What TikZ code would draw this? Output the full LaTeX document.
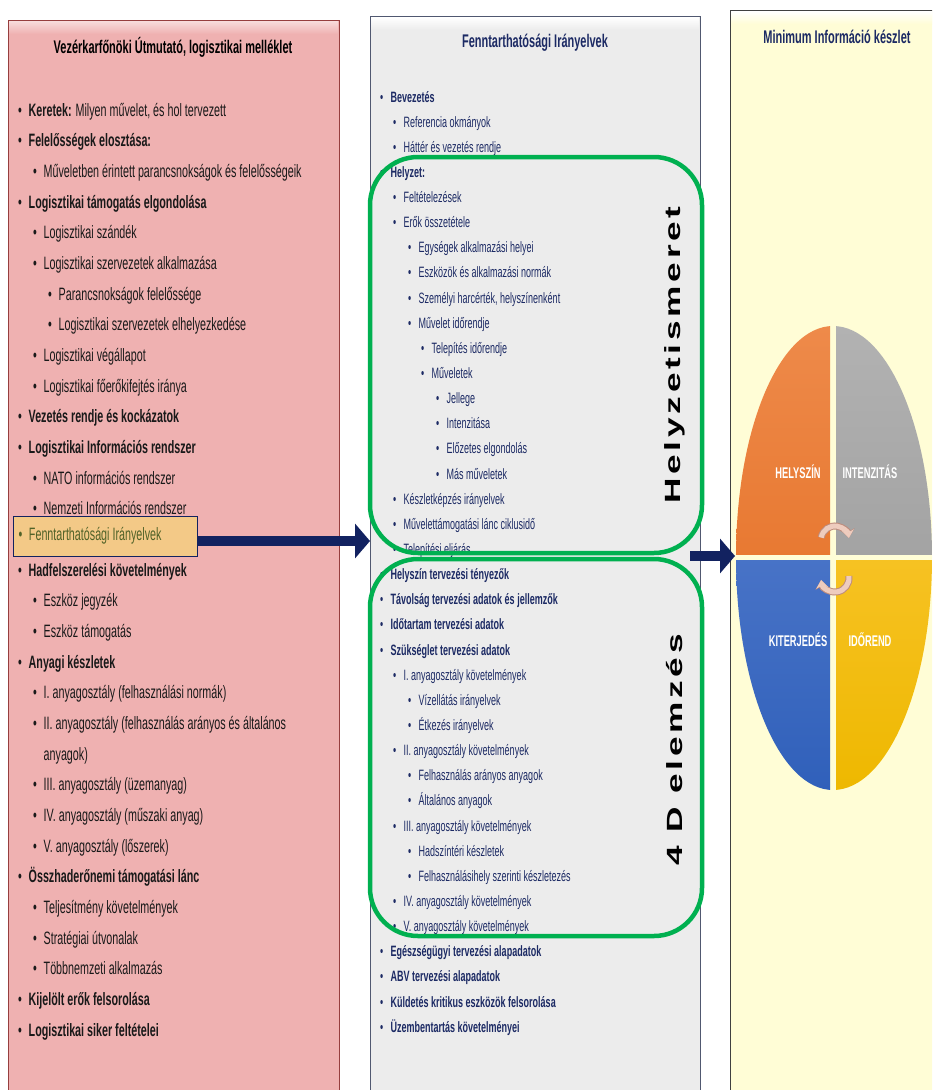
\documentclass[tikz,border=0pt]{standalone}
\usepackage{fontspec}
\setmainfont{Liberation Sans}[FakeStretch=0.6]
\newfontfamily\sidefont{Liberation Sans}[FakeStretch=1.6,LetterSpace=17]
\usetikzlibrary{arrows.meta,positioning}

\definecolor{pinkfill}{RGB}{239,177,177}
\definecolor{pinkline}{RGB}{150,62,62}
\definecolor{greyfill}{RGB}{236,236,236}
\definecolor{greyline}{RGB}{80,88,112}
\definecolor{creamfill}{RGB}{255,253,214}
\definecolor{navy}{RGB}{18,34,96}
\definecolor{textnavy}{RGB}{28,42,100}
\definecolor{frame}{RGB}{0,176,80}
\definecolor{hlfill}{RGB}{243,201,135}
\definecolor{olive}{RGB}{80,98,40}
\definecolor{peach}{RGB}{238,204,190}
\definecolor{peachdark}{RGB}{190,140,125}
\definecolor{orTop}{RGB}{238,138,74}
\definecolor{orBot}{RGB}{226,104,26}
\definecolor{grTop}{RGB}{178,178,178}
\definecolor{grBot}{RGB}{148,148,148}
\definecolor{blTop}{RGB}{96,134,212}
\definecolor{blBot}{RGB}{48,96,186}
\definecolor{yeTop}{RGB}{255,204,70}
\definecolor{yeBot}{RGB}{238,184,0}

\newcommand{\bul}{\makebox[10.5pt][l]{\textbullet}}
\newcommand{\nob}{\hspace*{10.5pt}}

\begin{document}
\begin{tikzpicture}[x=1pt,y=-1pt,
  panel/.style={draw, line width=1.2pt, anchor=north west, inner sep=0pt},
  ptitle/.style={font=\fontsize{18.3}{20}\selectfont\bfseries},
  litem/.style={anchor=base west, inner sep=0pt, font=\fontsize{17.9}{20}\selectfont, text=black!90},
  mitem/.style={anchor=base west, inner sep=0pt, font=\fontsize{15}{17}\selectfont, text=textnavy},
  sidetext/.style={rotate=90, font=\sidefont\fontsize{22}{24}\selectfont\bfseries},
  greenframe/.style={draw=frame, line width=4.5pt, rounded corners=48pt},
  bigarrow/.style={draw=navy, line width=10pt, -{Triangle[length=15pt,width=34pt]}},
  quadlabel/.style={font=\fontsize{15.5}{17}\selectfont\bfseries, text=white},
  turn/.style={draw=peach, line width=5pt, -{Stealth[length=8pt,width=12pt]}},
  turnshade/.style={draw=peachdark, line width=7pt, -{Stealth[length=9pt,width=14pt]}}]

\clip (0,0) rectangle (932,1090);
\fill[white] (0,0) rectangle (932,1090);

% the three panels
\node[panel, draw=pinkline, fill=pinkfill, minimum width=331pt, minimum height=1080pt] (vk) at (8,20) {};
\node[panel, draw=greyline, fill=greyfill, minimum width=330pt, minimum height=1085pt] (ft) at (370,16) {};
\node[panel, draw=black!75, fill=creamfill, minimum width=215pt, minimum height=1090pt] (mi) at (730,10) {};
\shade[top color=white!55!pinkfill, bottom color=pinkfill] (9,21) rectangle (338,34);
\shade[top color=white, bottom color=greyfill] (371,17) rectangle (699,30);
\shade[top color=white, bottom color=creamfill] (731,11) rectangle (932,24);

\node[ptitle] (vkcim) at (173,47) {Vezérkarfőnöki Útmutató, logisztikai melléklet};
\node[ptitle, text=textnavy] (ftcim) at (535,43) {Fenntarthatósági Irányelvek};
\node[ptitle, text=textnavy] (micim) at (837,37) {Minimum Információ készlet};

% left list
\foreach \n/\x/\t in {
  1/18/{\bul\textbf{Keretek:} Milyen művelet, és hol tervezett},
  2/18/{\bul\textbf{Felelősségek elosztása:}},
  3/33/{\bul Műveletben érintett parancsnokságok és felelősségeik},
  4/18/{\bul\textbf{Logisztikai támogatás elgondolása}},
  5/33/{\bul Logisztikai szándék},
  6/33/{\bul Logisztikai szervezetek alkalmazása},
  7/48/{\bul Parancsnokságok felelőssége},
  8/48/{\bul Logisztikai szervezetek elhelyezkedése},
  9/33/{\bul Logisztikai végállapot},
  10/33/{\bul Logisztikai főerőkifejtés iránya},
  11/18/{\bul\textbf{Vezetés rendje és kockázatok}},
  12/18/{\bul\textbf{Logisztikai Információs rendszer}},
  13/33/{\bul NATO információs rendszer},
  14/33/{\bul Nemzeti Információs rendszer},
  16/18/{\bul\textbf{Hadfelszerelési követelmények}},
  17/33/{\bul Eszköz jegyzék},
  18/33/{\bul Eszköz támogatás},
  19/18/{\bul\textbf{Anyagi készletek}},
  20/33/{\bul I. anyagosztály (felhasználási normák)},
  21/33/{\bul II. anyagosztály (felhasználás arányos és általános},
  22/33/{\nob anyagok)},
  23/33/{\bul III. anyagosztály (üzemanyag)},
  24/33/{\bul IV. anyagosztály (műszaki anyag)},
  25/33/{\bul V. anyagosztály (lőszerek)},
  26/18/{\bul\textbf{Összhaderőnemi támogatási lánc}},
  27/33/{\bul Teljesítmény követelmények},
  28/33/{\bul Stratégiai útvonalak},
  29/33/{\bul Többnemzeti alkalmazás},
  30/18/{\bul\textbf{Kijelölt erők felsorolása}},
  31/18/{\bul\textbf{Logisztikai siker feltételei}}}
  \node[litem] (L\n) at (\x,{116+30.67*(\n-1)}) {\t};

% highlighted item
\node[anchor=west, draw=navy, fill=hlfill, line width=1pt, inner xsep=5pt, inner ysep=0pt,
  minimum height=40pt, text=olive, font=\fontsize{17.9}{20}\selectfont] (fennt) at (13,536)
  {\makebox[174pt][l]{\bul Fenntarthatósági Irányelvek}};

% middle list
\foreach \n/\x/\t in {
  1/380/{\bul\textbf{Bevezetés}},
  2/393/{\bul Referencia okmányok},
  3/393/{\bul Háttér és vezetés rendje},
  4/380/{\bul\textbf{Helyzet:}},
  5/393/{\bul Feltételezések},
  6/393/{\bul Erők összetétele},
  7/408/{\bul Egységek alkalmazási helyei},
  8/408/{\bul Eszközök és alkalmazási normák},
  9/408/{\bul Személyi harcérték, helyszínenként},
  10/408/{\bul Művelet időrendje},
  11/421/{\bul Telepítés időrendje},
  12/421/{\bul Műveletek},
  13/436/{\bul Jellege},
  14/436/{\bul Intenzitása},
  15/436/{\bul Előzetes elgondolás},
  16/436/{\bul Más műveletek},
  17/393/{\bul Készletképzés irányelvek},
  18/393/{\bul Művelettámogatási lánc ciklusidő},
  19/393/{\bul Telepítési eljárás},
  20/380/{\bul\textbf{Helyszín tervezési tényezők}},
  21/380/{\bul\textbf{Távolság tervezési adatok és jellemzők}},
  22/380/{\bul\textbf{Időtartam tervezési adatok}},
  23/380/{\bul\textbf{Szükséglet tervezési adatok}},
  24/393/{\bul I. anyagosztály követelmények},
  25/408/{\bul Vízellátás irányelvek},
  26/408/{\bul Étkezés irányelvek},
  27/393/{\bul II. anyagosztály követelmények},
  28/408/{\bul Felhasználás arányos anyagok},
  29/408/{\bul Általános anyagok},
  30/393/{\bul III. anyagosztály követelmények},
  31/408/{\bul Hadszíntéri készletek},
  32/408/{\bul Felhasználásihely szerinti készletezés},
  33/393/{\bul IV. anyagosztály követelmények},
  34/393/{\bul V. anyagosztály követelmények},
  35/380/{\bul\textbf{Egészségügyi tervezési alapadatok}},
  36/380/{\bul\textbf{ABV tervezési alapadatok}},
  37/380/{\bul\textbf{Küldetés kritikus eszközök felsorolása}},
  38/380/{\bul\textbf{Üzembentartás követelményei}}}
  \node[mitem] (M\n) at (\x,{102+25.14*(\n-1)}) {\t};

% green frames
\draw[greenframe] (370,157) rectangle (702,553);
\draw[greenframe] (370,559) rectangle (702,936);
\node[sidetext] (helyz) at (675,355) {Helyzetismeret};
\node[sidetext] (elemz) at (675,750) {4 D elemzés};

% arrows between panels
\coordinate (a1) at ([yshift=-5pt]fennt.east);
\coordinate (a1e) at (a1 -| ft.west);
\draw[bigarrow] (a1) -- (a1e);
\coordinate (a2) at (690,556);
\coordinate (a2e) at (a2 -| mi.west);
\draw[bigarrow] (a2) -- ([xshift=5pt]a2e);

% pie of the four dimensions
\coordinate (pc) at (833,557);
\begin{scope}
  \clip (700,300) rectangle (830,554);
  \shade[top color=orTop, bottom color=orBot] (pc) ellipse (97 and 231);
\end{scope}
\begin{scope}
  \clip (836,300) rectangle (940,554);
  \shade[top color=grTop, bottom color=grBot] (pc) ellipse (99 and 231);
\end{scope}
\begin{scope}
  \clip (700,560) rectangle (830,800);
  \shade[top color=blTop, bottom color=blBot] (pc) ellipse (97 and 233);
\end{scope}
\begin{scope}
  \clip (836,560) rectangle (940,800);
  \shade[top color=yeTop, bottom color=yeBot] (pc) ellipse (99 and 233);
\end{scope}
\node[quadlabel] (hsz) at (798,472) {HELYSZÍN};
\node[quadlabel] (int) at (870,472) {INTENZITÁS};
\node[quadlabel] (kit) at (798,640) {KITERJEDÉS};
\node[quadlabel] (idr) at (870,640) {IDŐREND};
\draw[turnshade] (835,540) ++(190:14) arc[start angle=190, end angle=352, radius=14];
\draw[turn] (835,540) ++(190:14) arc[start angle=190, end angle=352, radius=14];
\draw[turnshade] (835,578) ++(-8:14) arc[start angle=-8, end angle=172, radius=14];
\draw[turn] (835,578) ++(-8:14) arc[start angle=-8, end angle=172, radius=14];
\end{tikzpicture}
\end{document}
